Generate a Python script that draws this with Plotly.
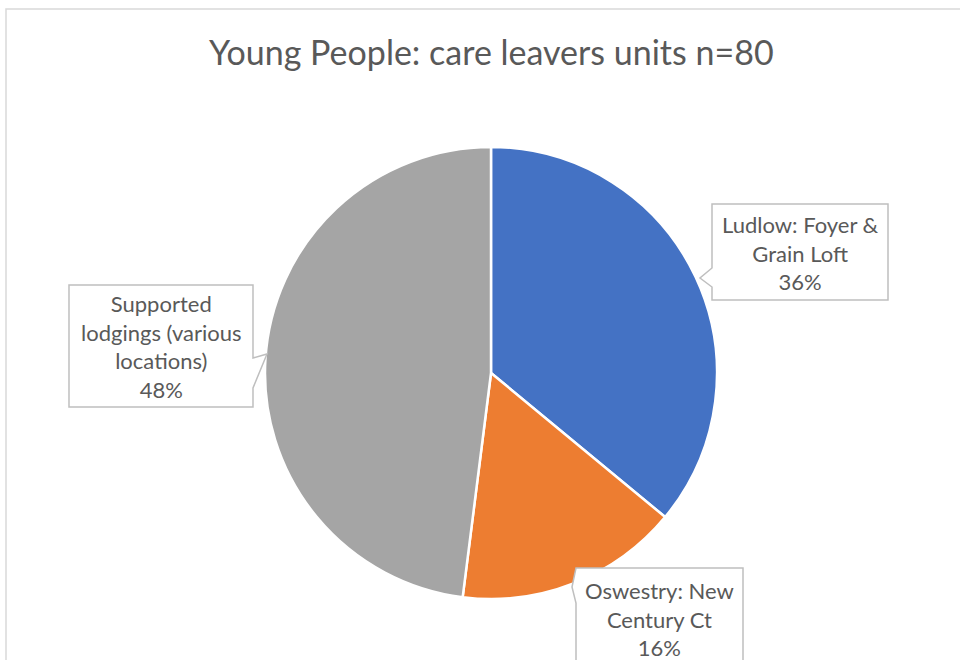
import plotly.graph_objects as go

# Data
labels = ["Ludlow: Foyer &<br>Grain Loft", "Oswestry: New<br>Century Ct", "Supported<br>lodgings (various<br>locations)"]
shares = [36, 16, 48]
colors = ["#4472C4", "#ED7D31", "#A5A5A5"]
title_text = "Young People: care leavers units n=80"

W, H = 960, 660
FONT = "Lato, 'Open Sans', sans-serif"
TXT = "#595959"


def px(x, y):
    """Pixel position -> paper coordinates."""
    return x / W, 1 - y / H


def path(points):
    parts = []
    for i, (x, y) in enumerate(points):
        xp, yp = px(x, y)
        parts.append(("M" if i == 0 else "L") + f"{xp:.5f},{yp:.5f}")
    return " ".join(parts) + " Z"


cx, cy, r = 491, 373, 226
x0, y0 = px(cx - r, cy + r)
x1, y1 = px(cx + r, cy - r)

fig = go.Figure(go.Pie(
    labels=labels,
    values=shares,
    sort=False,
    direction="clockwise",
    rotation=0,
    marker=dict(colors=colors, line=dict(color="white", width=2.5)),
    textinfo="none",
    hovertemplate="%{label}: %{value}%<extra></extra>",
    domain=dict(x=[x0, x1], y=[y0, y1]),
    showlegend=False,
))

# callout boxes with pointers (outline in pixel space)
callouts = [
    [(712, 204), (888, 204), (888, 300), (712, 300), (712, 287), (700, 278), (712, 268)],
    [(576, 568), (743, 568), (743, 700), (576, 700), (576, 603), (572, 587)],
    [(69, 285), (253, 285), (253, 358), (267, 354), (253, 388), (253, 407), (69, 407)],
]
label_centres = [(800, 253), (659.5, 619), (161, 346)]

shapes = []
for pts in callouts:
    shapes.append(dict(type="path", path=path(pts), xref="paper", yref="paper",
                       fillcolor="white", line=dict(color="#BFBFBF", width=1.5), layer="above"))

# chart area frame
bx0, by0 = px(6, 9)
shapes.append(dict(type="rect", xref="paper", yref="paper", x0=bx0, y0=by0, x1=1.05, y1=-0.05,
                   line=dict(color="#D9D9D9", width=1.5), fillcolor="rgba(0,0,0,0)", layer="below"))

annotations = []
for lab, val, (lx, ly) in zip(labels, shares, label_centres):
    ax, ay = px(lx, ly)
    annotations.append(dict(text=f"{lab}<br>{val}%", x=ax, y=ay, xref="paper", yref="paper",
                            xanchor="center", yanchor="middle", showarrow=False, align="center",
                            font=dict(family=FONT, size=22, color=TXT)))

tx, ty = px(491, 52)
annotations.append(dict(text=title_text, x=tx, y=ty, xref="paper", yref="paper",
                        xanchor="center", yanchor="middle", showarrow=False,
                        font=dict(family=FONT, size=34, color=TXT)))

fig.update_layout(
    width=W, height=H,
    margin=dict(l=0, r=0, t=0, b=0),
    paper_bgcolor="white",
    plot_bgcolor="white",
    shapes=shapes,
    annotations=annotations,
)

fig.write_html("out.html")
